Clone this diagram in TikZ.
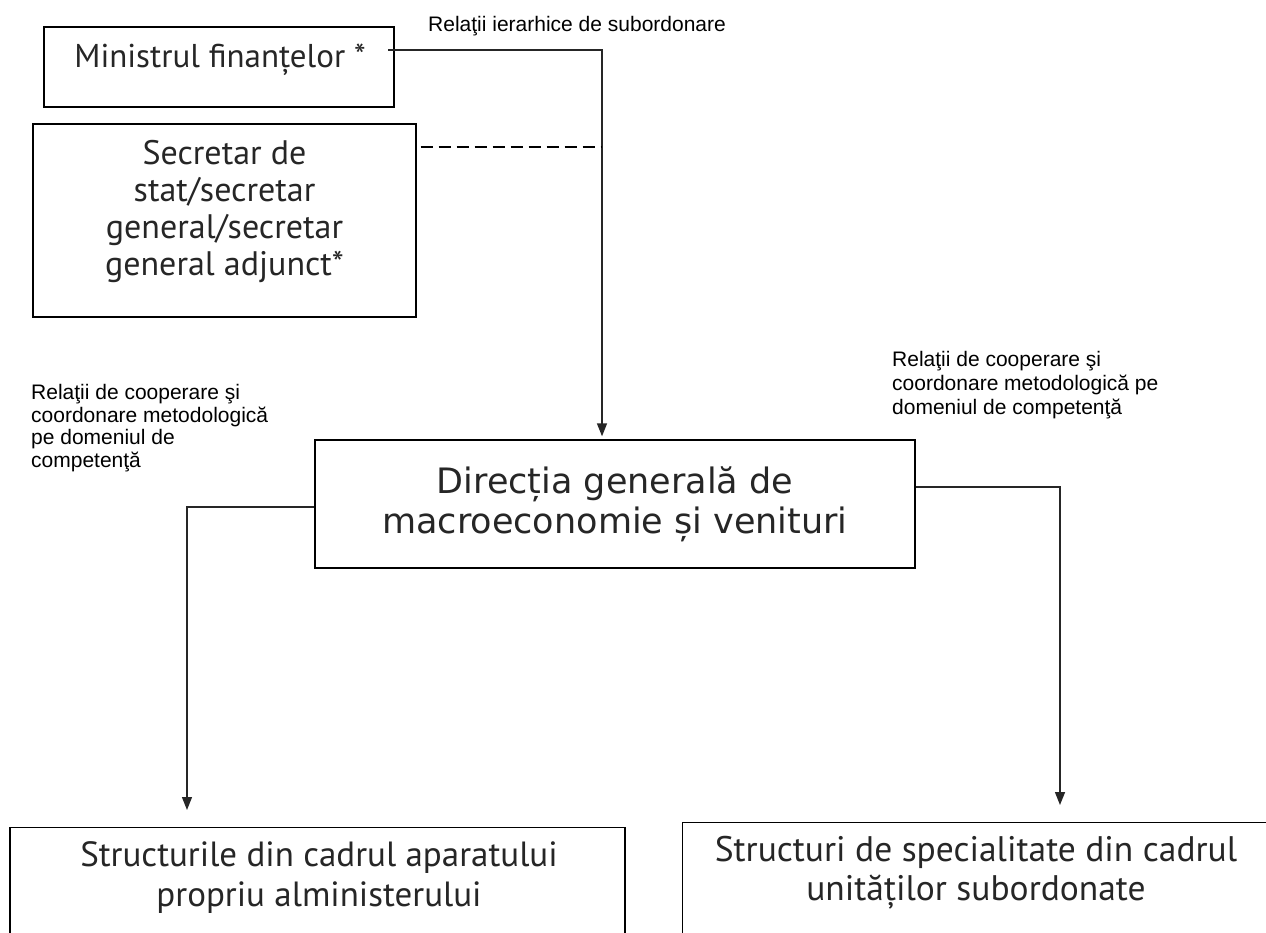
\documentclass[tikz,border=0pt]{standalone}
\usepackage{fontspec}
\setmainfont{PT Sans}
\newfontfamily\arialf{Liberation Sans}
\newfontfamily\verdf{DejaVu Sans}
\usetikzlibrary{arrows.meta}
\begin{document}
\begin{tikzpicture}[x=1pt,y=-1pt,
  box/.style={draw=black, line width=1.4pt, inner sep=0pt},
  boxtext/.style={font=\fontsize{33}{37}\selectfont, align=center, text=black!85, inner sep=2pt},
  lbl/.style={align=left, inner sep=0pt},
  conn/.style={line width=1.4pt},
  arr/.style={conn, -{Triangle[length=13pt,width=10pt]}, draw=black, color=black!85},
]
\useasboundingbox (0,0) rectangle (1266,933);
\fill[white] (0,0) rectangle (1266,933);
\clip (0,0) rectangle (1266,933);

% boxes
\node[box, minimum width=350pt, minimum height=80pt] (b1) at (219,67) {};
\node[boxtext, anchor=base] (t1) at (220,68) {Ministrul finanțelor *};
\node[box, minimum width=383pt, minimum height=193pt] (b2) at (224.5,220.5) {};
\node[boxtext, font=\fontsize{34}{37}\selectfont] (t2) at (224.5,212) {Secretar de\\stat/secretar\\general/secretar\\general adjunct*};
\node[box, boxtext, font=\verdf\fontsize{35}{40}\selectfont, minimum width=600pt, minimum height=128pt] (b3) at (615,504) {Direcția generală de\\macroeconomie și venituri};
\node[box, minimum width=615pt, minimum height=150pt, anchor=north] (b4) at (317.5,827) {};
\node[boxtext, font=\fontsize{35}{40}\selectfont] (t4) at (319,878) {Structurile din cadrul aparatului\\propriu alministerului};
\node[box, minimum width=620pt, minimum height=150pt, anchor=north west] (b5) at (682,822) {};
\node[boxtext, font=\fontsize{35.5}{39}\selectfont] (t5) at (976,873) {Structuri de specialitate din cadrul\\unităților subordonate};

% labels
\node[lbl, font=\arialf\fontsize{21}{24}\selectfont, anchor=west] (l0) at (428,26) {Relaţii ierarhice de subordonare};
\node[lbl, font=\arialf\fontsize{21}{22.7}\selectfont, anchor=north west] (l1) at (31,384) {Relaţii de cooperare şi\\coordonare metodologică\\pe domeniul de\\competenţă};
\node[lbl, font=\arialf\fontsize{21}{24}\selectfont, anchor=north west] (l2) at (892,351) {Relaţii de cooperare şi\\coordonare metodologică pe\\domeniul de competenţă};

% connectors
\coordinate (s1) at (388,50);
\coordinate (v) at (602,147);
\coordinate (lx) at (187,507);
\coordinate (rx) at (1060,487);
\draw[arr] (s1) -| ([yshift=3pt]b3.north -| v);
\draw[conn, dash pattern=on 12pt off 6pt] ([xshift=4pt]b2.east |- v) -- (v);
\draw[arr] (b3.west |- lx) -| ([yshift=17pt]b4.north -| lx);
\draw[arr] (b3.east |- rx) -| ([yshift=17pt]b5.north -| rx);
\end{tikzpicture}
\end{document}
